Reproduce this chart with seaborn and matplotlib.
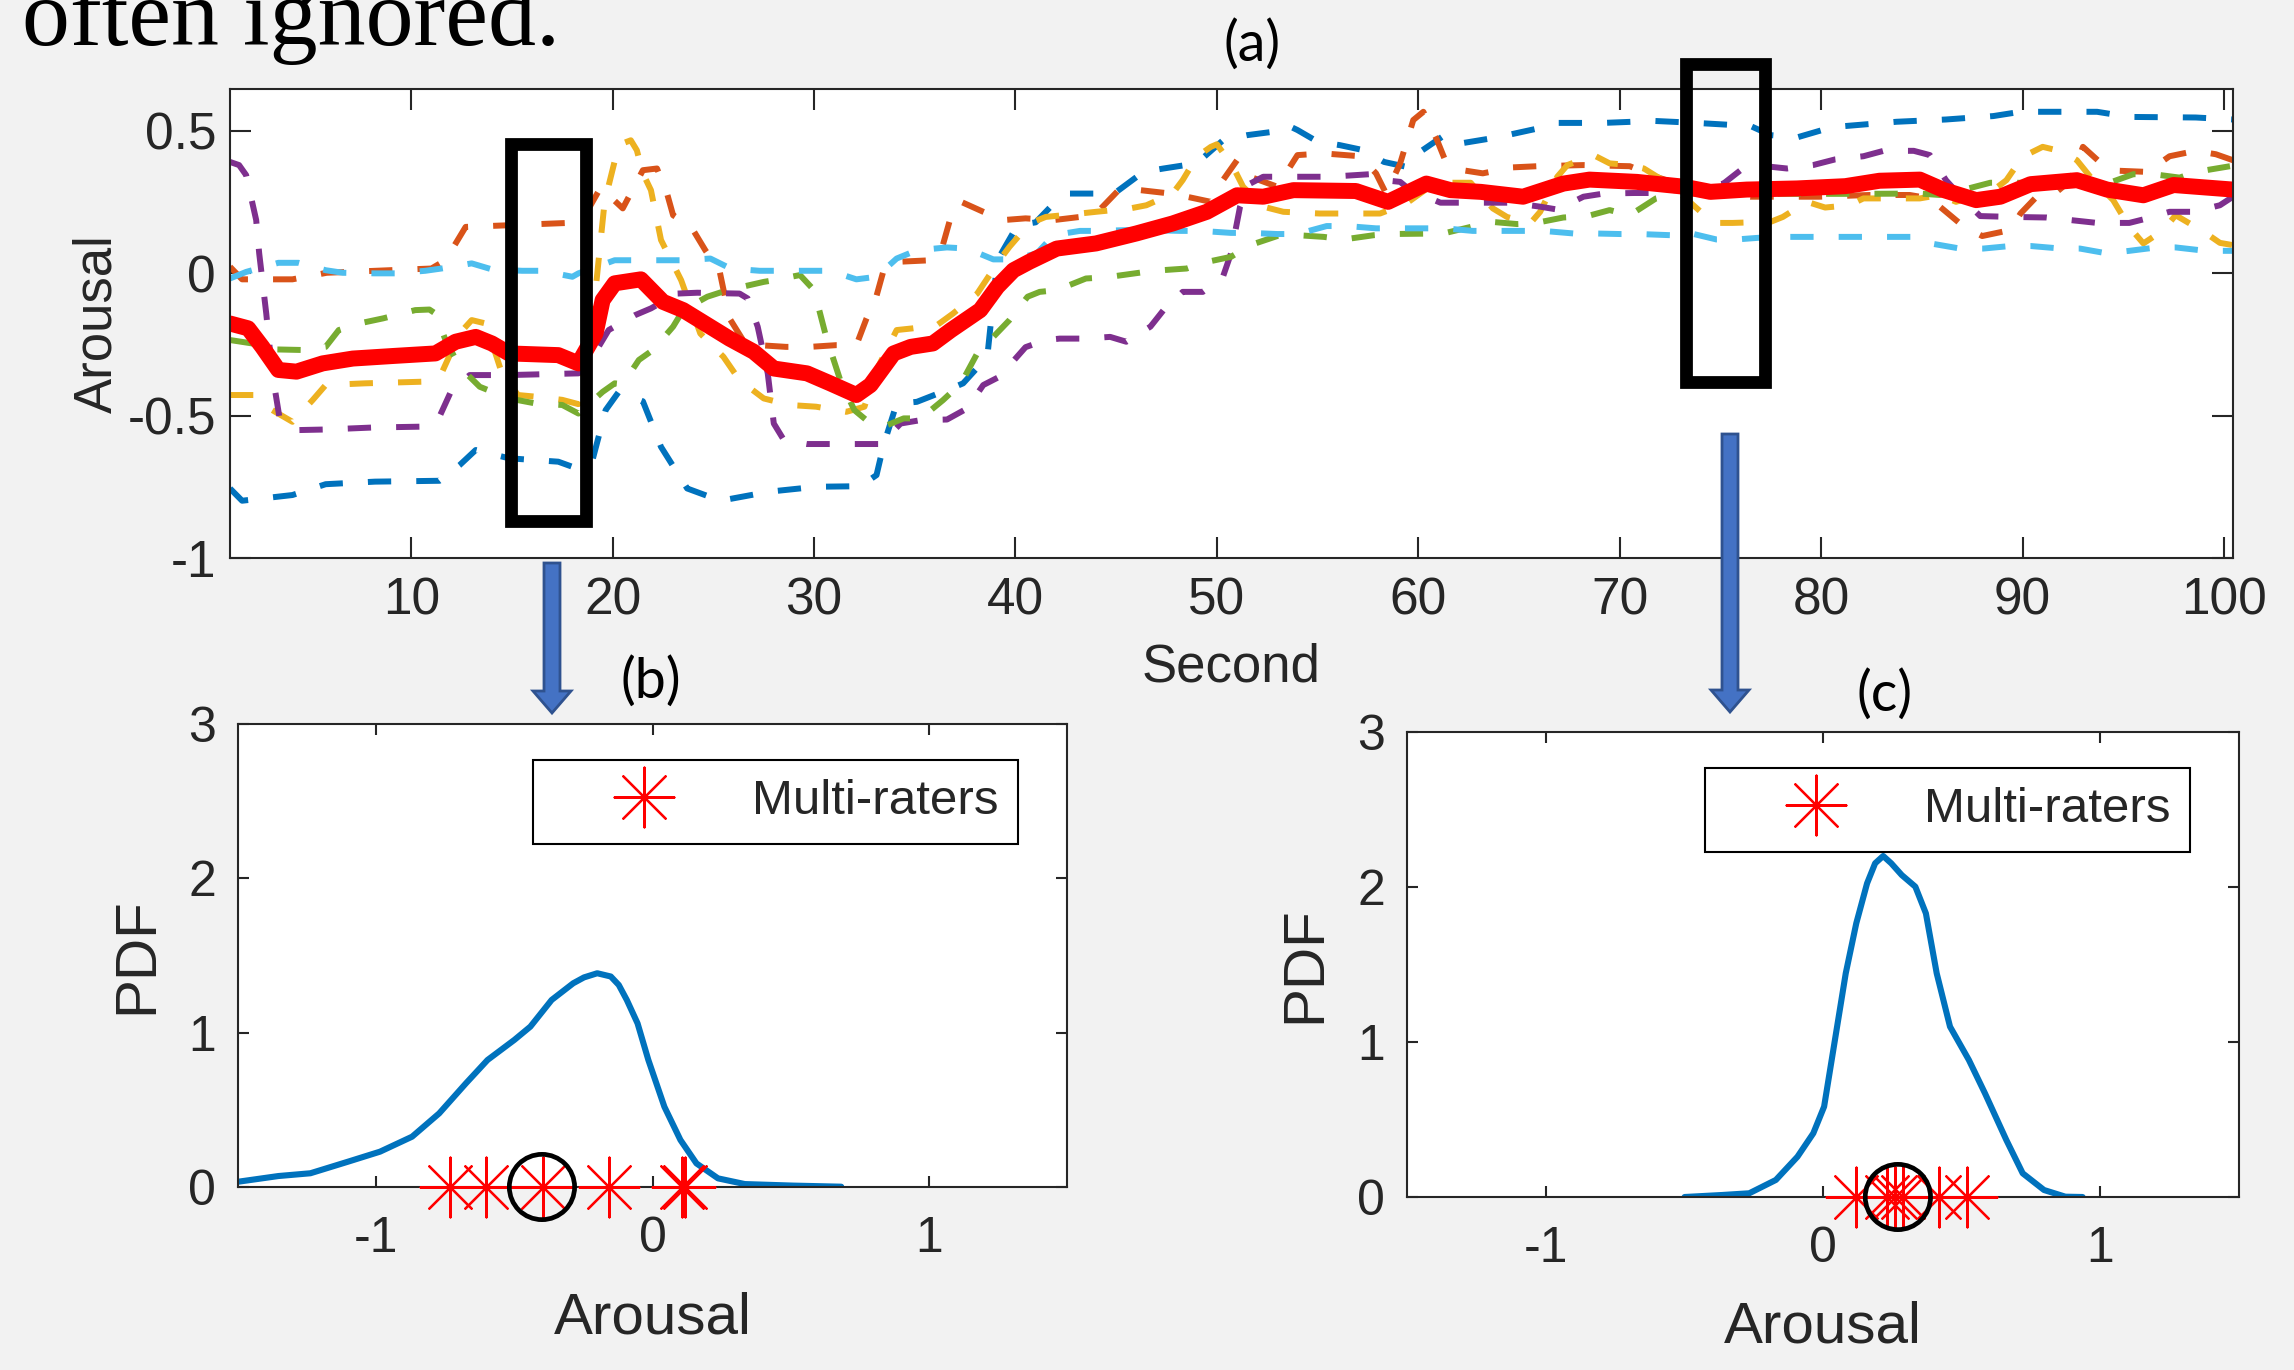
"""
Arousal traces from several raters (a) and the rating PDF at two moments (b, c).
"""

import matplotlib
matplotlib.use("Agg")
import matplotlib.pyplot as plt
from matplotlib.patches import Rectangle, FancyArrow
import seaborn as sns

W, H = 2294, 1370

# ---- (a) arousal over time, one dashed trace per rater + thick mean ----
BLUE_T = [1.0, 1.6, 4.1, 5.75, 8.2, 11.4, 12.4, 13.2, 14.85, 17.3, 18.2, 19.0, 19.65, 20.3, 21.5, 22.4, 23.7,
          25.35, 27.8, 30.1, 32.3, 33.1, 33.45, 34.1, 35.1, 36.8, 37.4, 38.6, 39.1, 40.1, 41.0, 41.9, 42.7, 44.9,
          46.35, 47.35, 49.0, 50.3, 51.5, 52.8, 53.5, 54.0, 55.0, 56.1, 57.3, 58.3, 59.4, 60.1, 61.3, 62.1, 63.9,
          65.9, 66.9, 69.2, 71.7, 73.8, 76.5, 77.5, 78.8, 80.3, 81.2, 83.75, 86.2, 88.55, 89.9, 93.7, 95.3, 98.6,
          100.45]
BLUE_V = [-0.756, -0.799, -0.779, -0.741, -0.732, -0.729, -0.674, -0.621, -0.65, -0.662, -0.685, -0.656, -0.481,
          -0.417, -0.45, -0.61, -0.756, -0.799, -0.767, -0.75, -0.748, -0.709, -0.604, -0.458, -0.452, -0.405,
          -0.387, -0.294, 0.045, 0.168, 0.178, 0.244, 0.279, 0.279, 0.355, 0.367, 0.385, 0.466, 0.484, 0.496,
          0.519, 0.502, 0.461, 0.449, 0.431, 0.39, 0.373, 0.426, 0.484, 0.455, 0.476, 0.507, 0.527, 0.527, 0.534,
          0.527, 0.516, 0.484, 0.476, 0.507, 0.516, 0.531, 0.539, 0.551, 0.566, 0.566, 0.548, 0.546, 0.539]

ORANGE_T = [1.0, 1.6, 4.1, 5.8, 11.0, 11.7, 12.7, 14.9, 17.8, 18.6, 19.4, 20.5, 21.5, 22.2, 22.7, 23.0, 23.9,
            24.6, 25.3, 25.8, 26.6, 28.6, 29.8, 31.1, 32.1, 32.6, 33.1, 33.5, 34.3, 35.8, 36.4, 36.8, 37.3, 38.4,
            39.4, 40.5, 41.9, 43.2, 44.0, 45.2, 46.2, 47.7, 48.5, 49.7, 50.3, 51.0, 51.65, 53.0, 54.0, 55.3, 57.1,
            57.9, 58.4, 59.1, 59.75, 60.25, 60.9, 61.3, 62.2, 63.2, 64.7, 65.9, 68.2, 70.5, 71.8, 73.3, 76.5,
            79.9, 82.4, 84.4, 85.4, 86.1, 87.1, 88.0, 89.4, 89.9, 90.7, 91.7, 92.4, 93.0, 94.0, 94.8, 96.2, 97.3,
            98.6, 99.6, 100.45]
ORANGE_V = [0.022, -0.022, -0.022, 0.001, 0.016, 0.045, 0.162, 0.168, 0.176, 0.20, 0.30, 0.227, 0.361, 0.367,
            0.279, 0.203, 0.162, 0.08, 0.01, -0.159, -0.25, -0.259, -0.259, -0.253, -0.253, -0.16, -0.08, 0.022,
            0.04, 0.045, 0.10, 0.20, 0.25, 0.215, 0.186, 0.192, 0.186, 0.197, 0.209, 0.297, 0.291, 0.279, 0.268,
            0.25, 0.326, 0.396, 0.338, 0.303, 0.414, 0.42, 0.41, 0.35, 0.279, 0.385, 0.537, 0.566, 0.472, 0.402,
            0.361, 0.35, 0.371, 0.375, 0.379, 0.375, 0.338, 0.303, 0.268, 0.268, 0.274, 0.274, 0.262, 0.221,
            0.162, 0.13, 0.151, 0.209, 0.268, 0.285, 0.326, 0.443, 0.379, 0.359, 0.355, 0.41, 0.429, 0.417, 0.396]

YELLOW_T = [1.0, 2.3, 3.1, 4.1, 5.1, 5.75, 7.7, 10.7, 11.5, 12.4, 13.0, 13.7, 14.5, 15.3, 16.2, 17.5, 18.3,
            19.15, 19.6, 20.3, 20.9, 21.2, 21.5, 21.9, 22.4, 23.4, 24.35, 25.5, 26.3, 27.5, 28.8, 30.1, 31.6,
            32.5, 33.1, 34.1, 34.9, 36.1, 36.9, 38.1, 39.2, 39.7, 40.7, 41.5, 43.2, 44.0, 45.7, 46.5, 47.8, 48.3,
            49.0, 49.7, 50.0, 50.8, 51.3, 52.3, 53.3, 55.1, 58.1, 59.4, 60.5, 61.4, 62.6, 63.7, 64.4, 65.55,
            66.05, 66.9, 67.4, 68.7, 69.5, 70.5, 71.2, 72.0, 73.0, 74.65, 75.6, 77.5, 78.1, 79.3, 80.2, 81.4,
            82.1, 84.9, 85.9, 86.7, 88.55, 89.2, 90.0, 91.0, 92.0, 92.7, 93.5, 94.5, 95.3, 96.0, 97.0, 97.6, 99.0,
            99.8, 100.45]
YELLOW_V = [-0.428, -0.428, -0.481, -0.522, -0.446, -0.393, -0.387, -0.381, -0.352, -0.212, -0.165, -0.177,
            -0.352, -0.428, -0.434, -0.445, -0.46, -0.06, 0.25, 0.45, 0.466, 0.431, 0.35, 0.291, 0.116, -0.025,
            -0.212, -0.294, -0.376, -0.44, -0.463, -0.469, -0.487, -0.469, -0.34, -0.2, -0.194, -0.183, -0.142,
            -0.072, 0.045, 0.092, 0.174, 0.197, 0.209, 0.215, 0.227, 0.238, 0.279, 0.326, 0.408, 0.443, 0.452,
            0.373, 0.303, 0.233, 0.215, 0.209, 0.209, 0.244, 0.30, 0.317, 0.317, 0.227, 0.197, 0.174, 0.215,
            0.338, 0.379, 0.414, 0.385, 0.379, 0.367, 0.332, 0.279, 0.176, 0.176, 0.18, 0.197, 0.25, 0.23, 0.238,
            0.262, 0.262, 0.274, 0.25, 0.291, 0.326, 0.408, 0.443, 0.426, 0.396, 0.326, 0.256, 0.162, 0.104,
            0.151, 0.203, 0.145, 0.106, 0.098]

PURPLE_T = [1.0, 1.45, 1.8, 2.3, 2.45, 2.8, 3.1, 3.45, 4.4, 5.75, 8.1, 10.55, 11.4, 12.0, 12.9, 14.85, 18.3,
            19.3, 19.8, 21.1, 21.9, 23.2, 24.2, 26.3, 26.7, 27.2, 27.7, 28.0, 28.5, 29.65, 33.3, 34.3, 35.3, 36.6,
            37.6, 38.4, 39.2, 40.5, 41.5, 42.2, 43.4, 44.7, 45.5, 46.7, 47.35, 48.3, 49.3, 50.3, 50.7, 51.15,
            51.65, 52.3, 53.96, 55.6, 57.6, 58.3, 59.1, 59.6, 61.1, 62.2, 63.6, 64.6, 66.05, 66.9, 68.2, 69.2,
            70.7, 71.5, 72.2, 73.2, 75.15, 76.0, 77.5, 78.3, 79.6, 80.7, 82.1, 83.1, 84.6, 85.4, 86.2, 87.1, 87.9,
            89.5, 91.2, 93.7, 95.3, 96.2, 97.3, 98.5, 99.8, 100.45]
PURPLE_V = [0.39, 0.379, 0.344, 0.186, 0.069, -0.142, -0.352, -0.504, -0.551, -0.549, -0.542, -0.539, -0.504,
            -0.411, -0.358, -0.358, -0.352, -0.259, -0.2, -0.148, -0.124, -0.072, -0.069, -0.072, -0.089, -0.188,
            -0.352, -0.528, -0.586, -0.6, -0.6, -0.528, -0.516, -0.514, -0.475, -0.393, -0.364, -0.26, -0.235,
            -0.23, -0.23, -0.224, -0.241, -0.188, -0.13, -0.066, -0.066, -0.013, 0.069, 0.233, 0.314, 0.338,
            0.338, 0.338, 0.347, 0.326, 0.32, 0.291, 0.247, 0.247, 0.247, 0.247, 0.233, 0.223, 0.268, 0.279,
            0.281, 0.281, 0.291, 0.291, 0.314, 0.361, 0.373, 0.367, 0.379, 0.399, 0.41, 0.429, 0.429, 0.414,
            0.326, 0.256, 0.2, 0.197, 0.195, 0.176, 0.176, 0.192, 0.215, 0.215, 0.238, 0.268]

GREEN_T = [1.0, 2.1, 3.3, 4.6, 5.75, 6.4, 7.4, 8.6, 10.2, 10.9, 11.2, 11.7, 12.4, 13.4, 14.85, 16.2, 17.5, 18.3,
           19.5, 20.1, 20.5, 21.3, 22.0, 23.0, 23.5, 24.7, 25.7, 27.5, 28.0, 29.3, 30.0, 30.6, 31.3, 32.0, 32.8,
           33.45, 34.45, 35.3, 36.4, 37.3, 38.1, 38.75, 39.7, 40.6, 41.2, 42.05, 43.5, 44.5, 46.85, 48.5, 49.3,
           50.7, 51.65, 53.0, 54.0, 55.3, 56.3, 57.8, 58.6, 61.25, 62.6, 63.6, 64.9, 65.7, 67.2, 68.4, 69.5, 70.5,
           71.8, 72.8, 75.0, 78.8, 81.8, 84.9, 85.9, 86.6, 87.1, 88.4, 89.5, 94.2, 95.5, 96.5, 97.8, 98.6, 100.3]
GREEN_V = [-0.235, -0.247, -0.268, -0.27, -0.259, -0.2, -0.177, -0.159, -0.13, -0.128, -0.142, -0.235, -0.329,
           -0.399, -0.44, -0.458, -0.463, -0.493, -0.417, -0.387, -0.39, -0.305, -0.27, -0.188, -0.13, -0.083,
           -0.06, -0.031, -0.025, -0.007, -0.06, -0.224, -0.376, -0.481, -0.528, -0.539, -0.51, -0.51, -0.446,
           -0.387, -0.282, -0.235, -0.165, -0.083, -0.066, -0.06, -0.019, -0.015, 0.008, 0.016, 0.036, 0.057,
           0.098, 0.13, 0.133, 0.127, 0.118, 0.133, 0.137, 0.139, 0.162, 0.18, 0.172, 0.174, 0.195, 0.2, 0.221,
           0.203, 0.262, 0.279, 0.28, 0.278, 0.278, 0.279, 0.274, 0.297, 0.293, 0.317, 0.317, 0.314, 0.347,
           0.347, 0.335, 0.355, 0.375]

LIGHTBLUE_T = [1.0, 1.8, 3.4, 4.4, 5.75, 6.6, 8.2, 9.2, 10.7, 11.5, 13.0, 14.0, 15.5, 16.5, 18.0, 18.3, 20.1,
               21.5, 23.5, 24.85, 25.85, 27.3, 28.3, 29.65, 30.8, 32.1, 33.1, 34.1, 35.1, 36.6, 37.6, 38.9, 39.9,
               41.06, 41.9, 43.2, 44.0, 45.7, 46.5, 48.2, 49.2, 50.7, 51.65, 53.0, 54.0, 55.45, 56.45, 57.9, 58.9,
               61.3, 62.7, 63.7, 65.2, 66.2, 67.7, 68.7, 70.0, 71.0, 72.5, 73.2, 74.8, 75.8, 77.5, 78.3, 79.8,
               80.8, 83.25, 84.6, 85.6, 86.9, 88.05, 89.4, 90.4, 91.9, 92.85, 94.2, 95.3, 96.65, 97.6, 99.1,
               100.45]
LIGHTBLUE_V = [-0.019, 0.004, 0.036, 0.036, 0.01, 0.001, -0.001, -0.001, 0.008, 0.016, 0.034, 0.013, 0.008,
               0.008, -0.013, -0.001, 0.045, 0.045, 0.045, 0.051, 0.016, 0.008, 0.008, 0.008, 0.008, -0.022,
               -0.013, 0.051, 0.08, 0.09, 0.086, 0.048, 0.048, 0.069, 0.133, 0.148, 0.148, 0.151, 0.151, 0.148,
               0.148, 0.141, 0.141, 0.137, 0.137, 0.165, 0.165, 0.157, 0.157, 0.157, 0.148, 0.148, 0.148, 0.148,
               0.139, 0.139, 0.137, 0.137, 0.133, 0.145, 0.118, 0.118, 0.127, 0.127, 0.127, 0.127, 0.127, 0.127,
               0.102, 0.086, 0.086, 0.095, 0.095, 0.086, 0.086, 0.069, 0.078, 0.09, 0.09, 0.078, 0.078]

MEAN_T = [1.0, 1.9, 2.6, 3.4, 4.3, 5.6, 7.1, 9.1, 11.2, 12.2, 13.2, 14.0, 14.85, 17.3, 18.3, 19.15, 19.5, 20.1,
          21.4, 22.5, 23.5, 25.8, 27.0, 28.0, 29.65, 30.8, 32.1, 32.8, 33.95, 34.8, 35.9, 36.8, 38.25, 39.1, 39.9,
          40.7, 42.05, 44.0, 46.0, 47.8, 49.5, 51.0, 52.3, 53.8, 56.9, 58.5, 60.4, 61.6, 63.1, 65.2, 67.2, 68.5,
          70.85, 73.2, 74.5, 76.3, 78.8, 81.2, 82.9, 84.9, 86.1, 87.7, 88.9, 90.4, 92.7, 94.2, 96.0, 97.5, 100.45]
MEAN_V = [-0.177, -0.194, -0.259, -0.34, -0.346, -0.317, -0.30, -0.291, -0.282, -0.241, -0.224, -0.247, -0.282,
          -0.288, -0.317, -0.212, -0.095, -0.036, -0.022, -0.101, -0.13, -0.23, -0.276, -0.335, -0.352, -0.387,
          -0.428, -0.393, -0.282, -0.259, -0.247, -0.20, -0.13, -0.048, 0.010, 0.04, 0.086, 0.104, 0.139, 0.174,
          0.215, 0.273, 0.268, 0.291, 0.288, 0.25, 0.314, 0.291, 0.285, 0.268, 0.314, 0.328, 0.32, 0.303, 0.285,
          0.293, 0.297, 0.305, 0.324, 0.328, 0.291, 0.256, 0.268, 0.312, 0.326, 0.293, 0.273, 0.309, 0.293]

RATERS = [
    (BLUE_T, BLUE_V, "#0072BD"),
    (ORANGE_T, ORANGE_V, "#D95319"),
    (YELLOW_T, YELLOW_V, "#EDB120"),
    (PURPLE_T, PURPLE_V, "#7E2F8E"),
    (GREEN_T, GREEN_V, "#77AC30"),
    (LIGHTBLUE_T, LIGHTBLUE_V, "#4DBEEE"),
]

# highlighted windows (seconds, arousal)
WIN1 = (14.97, 18.70, -0.869, 0.452)
WIN2 = (73.3, 77.2, -0.382, 0.732)

# ---- (b) and (c): PDF of arousal inside each window ----
B_X = [-1.5, -1.354, -1.238, -1.102, -0.986, -0.87, -0.772, -0.675, -0.597, -0.50, -0.442, -0.365, -0.287,
       -0.248, -0.20, -0.151, -0.122, -0.093, -0.054, -0.015, 0.043, 0.101, 0.159, 0.237, 0.334, 0.509, 0.683]
B_PDF = [0.034, 0.071, 0.089, 0.164, 0.229, 0.326, 0.477, 0.672, 0.823, 0.953, 1.039, 1.212, 1.32, 1.358, 1.385,
         1.364, 1.309, 1.212, 1.06, 0.823, 0.52, 0.305, 0.153, 0.056, 0.019, 0.009, 0.002]
B_RATERS = [-0.733, -0.601, -0.398, -0.159, 0.107, 0.117]
B_CIRCLE = -0.40

C_X = [-0.499, -0.363, -0.266, -0.17, -0.092, -0.035, 0.004, 0.043, 0.082, 0.12, 0.159, 0.188, 0.217, 0.246,
       0.284, 0.333, 0.371, 0.41, 0.458, 0.526, 0.584, 0.661, 0.72, 0.797, 0.874, 0.936]
C_PDF = [0.0, 0.013, 0.024, 0.11, 0.26, 0.411, 0.583, 1.013, 1.443, 1.766, 2.024, 2.153, 2.2, 2.153, 2.077,
         2.002, 1.83, 1.443, 1.099, 0.884, 0.669, 0.368, 0.153, 0.045, 0.002, 0.0]
C_RATERS = [0.12, 0.23, 0.26, 0.29, 0.42, 0.52]
C_CIRCLE = 0.27

sns.set_style("ticks")
plt.rcParams["font.family"] = ["Liberation Sans", "DejaVu Sans"]
plt.rcParams["axes.unicode_minus"] = False

AX_COLOR = "#262626"
BG = "#F2F2F2"
ASTERISK = (8, 2, 0)


def style_axes(ax, ticklen, labelsize, xpad, ypad):
    ax.set_facecolor("white")
    for sp in ax.spines.values():
        sp.set_visible(True)
        sp.set_color(AX_COLOR)
        sp.set_linewidth(1.5)
    ax.tick_params(direction="in", top=True, right=True, length=ticklen, width=1.5,
                   color=AX_COLOR, labelsize=labelsize, labelcolor=AX_COLOR)
    ax.tick_params(axis="x", pad=xpad)
    ax.tick_params(axis="y", pad=ypad)


def frac_rect(left, top, right, bottom):
    return [left / W, 1 - bottom / H, (right - left) / W, (bottom - top) / H]


fig = plt.figure(figsize=(W / 100, H / 100), dpi=100, facecolor=BG)

# ---------------- (a) ----------------
ax_a = fig.add_axes(frac_rect(230, 89, 2233, 558))
for t, v, c in RATERS:
    sns.lineplot(x=t, y=v, ax=ax_a, color=c, estimator=None, sort=False)
    line = ax_a.lines[-1]
    line.set_linewidth(4.3)
    line.set_dashes((3.9, 4.2))
    line.set_dash_capstyle("butt")
sns.lineplot(x=MEAN_T, y=MEAN_V, ax=ax_a, color="#FF0000", estimator=None, sort=False)
ax_a.lines[-1].set_linewidth(11.5)
ax_a.lines[-1].set_solid_joinstyle("round")
ax_a.lines[-1].set_solid_capstyle("round")
ax_a.set_xlim(1, 100.45)
ax_a.set_ylim(-1, 0.646)
ax_a.set_xticks(range(10, 101, 10))
ax_a.set_yticks([-1, -0.5, 0, 0.5], ["-1", "-0.5", "0", "0.5"])
style_axes(ax_a, 15, 37, 13, 10)
ax_a.set_xlabel("Second", fontsize=38, color=AX_COLOR, va="center")
ax_a.set_ylabel("Arousal", fontsize=38, color=AX_COLOR, va="center")
ax_a.xaxis.set_label_coords(0.5, -0.2345)
ax_a.yaxis.set_label_coords(-0.0664, 0.5)

for t0, t1, y0, y1 in (WIN1, WIN2):
    ax_a.add_patch(Rectangle((t0, y0), t1 - t0, y1 - y0, fill=False, edgecolor="black",
                             linewidth=9.2, joinstyle="miter", clip_on=False, zorder=10))


def pdf_panel(rect, xs, pdf, raters, circle):
    ax = fig.add_axes(rect)
    sns.lineplot(x=xs, y=pdf, ax=ax, color="#0072BD", estimator=None, sort=False)
    ax.lines[-1].set_linewidth(4.4)
    sns.scatterplot(x=raters, y=[0] * len(raters), ax=ax, color="#FF0000", marker=ASTERISK,
                    s=43 ** 2, linewidths=1.6, label="Multi-raters", zorder=5)
    sns.scatterplot(x=[circle], y=[0], ax=ax, marker="o", s=47 ** 2, facecolors="none",
                    edgecolors="black", linewidths=3.4, zorder=6)
    for coll in ax.collections:
        coll.set_clip_on(False)
    ax.set_xlim(-1.5, 1.5)
    ax.set_ylim(0, 3)
    ax.set_xticks([-1, 0, 1], ["-1", "0", "1"])
    ax.set_yticks([0, 1, 2, 3], ["0", "1", "2", "3"])
    style_axes(ax, 8, 36, 21, 16)
    ax.set_xlabel("Arousal", fontsize=42, color=AX_COLOR, va="center")
    ax.set_ylabel("PDF", fontsize=42, color=AX_COLOR, va="center")
    leg = ax.legend(loc="upper right", bbox_to_anchor=(0.941, 0.922), borderaxespad=0,
                    frameon=True, fancybox=False, edgecolor="black", framealpha=1,
                    prop={"size": 35.5}, handlelength=3.7, handletextpad=0.35, borderpad=0.39,
                    scatteryoffsets=[0.5])
    leg.get_frame().set_linewidth(1.5)
    return ax


ax_b = pdf_panel(frac_rect(238, 724, 1067, 1187), B_X, B_PDF, B_RATERS, B_CIRCLE)
ax_b.xaxis.set_label_coords(0.5, -0.283)
ax_b.yaxis.set_label_coords(-0.1218, 0.5)

ax_c = pdf_panel(frac_rect(1407, 732, 2239, 1197), C_X, C_PDF, C_RATERS, C_CIRCLE)
ax_c.xaxis.set_label_coords(0.5, -0.2817)
ax_c.yaxis.set_label_coords(-0.1226, 0.5)

# ---- panel captions, slide text and arrows ----
for label, (px, py) in {"(a)": (1252, 45), "(b)": (651, 682), "(c)": (1885, 695)}.items():
    fig.text(px / W, 1 - py / H, label, ha="center", va="center", fontsize=40,
             family=["Lato", "DejaVu Sans"], color="black")

fig.text(22 / W, 1 - 45 / H, "often ignored.", ha="left", va="baseline", fontsize=69,
         family=["Liberation Serif", "DejaVu Serif"], color="black")

for x_px, y0_px, y1_px in ((552, 563, 713), (1730, 434, 712)):
    fig.add_artist(FancyArrow(x_px / W, 1 - y0_px / H, 0, -(y1_px - y0_px) / H,
                              width=16 / W, head_width=38 / W, head_length=22 / H,
                              length_includes_head=True, transform=fig.transFigure,
                              facecolor="#4472C4", edgecolor="#2F528F", linewidth=2, zorder=20))

fig.savefig("out.png", dpi=100, facecolor=BG)
